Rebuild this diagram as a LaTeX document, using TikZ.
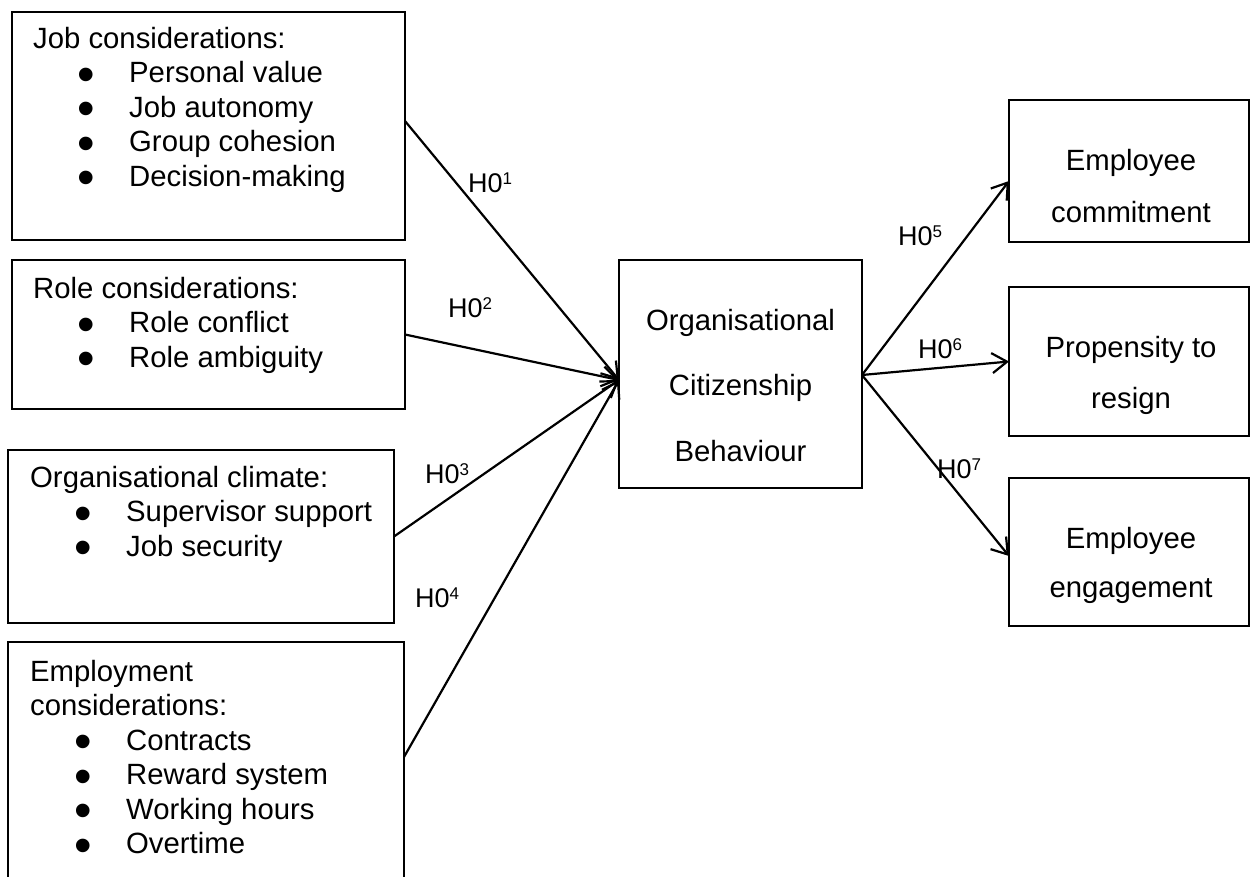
\documentclass[tikz,border=0pt]{standalone}
\usepackage{fontspec}
\setmainfont{Liberation Sans}
\usetikzlibrary{arrows.meta,calc}

% one bulleted entry of a factor list
\newcommand\listentry[1]{\hspace*{44pt}\makebox[52pt][l]{\smash{\raisebox{-8.5pt}{\fontsize{50pt}{50pt}\selectfont\textbullet}}}#1}
% hypothesis label H0 with raised index
\newcommand\hyp[1]{H0\raisebox{8pt}{\fontsize{17pt}{17pt}\selectfont #1}}

\begin{document}
\begin{tikzpicture}[x=1pt,y=-1pt,
  boxshape/.style={draw, rectangle, line width=1.7pt, inner sep=0pt, outer sep=0pt},
  listtext/.style={inner sep=0pt, anchor=base west, font=\fontsize{29.3pt}{34.5pt}\selectfont},
  centertext/.style={inner sep=0pt, anchor=base},
  hyplabel/.style={inner sep=0pt, anchor=base west, font=\fontsize{27pt}{27pt}\selectfont},
  conn/.style={line width=2.2pt, -{Straight Barb[length=15pt,width=20pt]}}
]
\fill[white] (0,0) rectangle (1250,876);
\useasboundingbox (0,0) rectangle (1250,876);

% factor boxes on the left
\node[boxshape, minimum width=393pt, minimum height=228pt] (jobbox) at (208.5,126) {};
\node[boxshape, minimum width=393pt, minimum height=149pt] (rolebox) at (208.5,334.5) {};
\node[boxshape, minimum width=386pt, minimum height=173pt] (climbox) at (201,536.5) {};
\node[boxshape, minimum width=396pt, minimum height=240pt] (empbox) at (206,762) {};

\node[listtext] (jobtext) at (33,48) {\begin{tabular}[t]{@{}l@{}}Job considerations:\\
  \listentry{Personal value}\\ \listentry{Job autonomy}\\
  \listentry{Group cohesion}\\ \listentry{Decision-making}\end{tabular}};
\node[listtext] (roletext) at (33,298) {\begin{tabular}[t]{@{}l@{}}Role considerations:\\
  \listentry{Role conflict}\\ \listentry{Role ambiguity}\end{tabular}};
\node[listtext] (climtext) at (30,487) {\begin{tabular}[t]{@{}l@{}}Organisational climate:\\
  \listentry{Supervisor support}\\ \listentry{Job security}\end{tabular}};
\node[listtext] (emptext) at (30,681) {\begin{tabular}[t]{@{}l@{}}Employment\\ considerations:\\
  \listentry{Contracts}\\ \listentry{Reward system}\\
  \listentry{Working hours}\\ \listentry{Overtime}\end{tabular}};

% central construct
\node[boxshape, minimum width=243pt, minimum height=228pt] (ocb) at (740.5,374) {};
\node[centertext, font=\fontsize{29.3pt}{65.5pt}\selectfont] (ocbtext) at (740.5,330)
  {\begin{tabular}[t]{@{}c@{}}Organisational\\ Citizenship\\ Behaviour\end{tabular}};

% outcome boxes on the right
\node[boxshape, minimum width=240pt, minimum height=142pt] (commitbox) at (1129,171) {};
\node[boxshape, minimum width=240pt, minimum height=149pt] (propbox) at (1129,361.5) {};
\node[boxshape, minimum width=240pt, minimum height=148pt] (engagebox) at (1129,552) {};

\node[centertext, font=\fontsize{29.3pt}{52pt}\selectfont] (committext) at (1131,170)
  {\begin{tabular}[t]{@{}c@{}}Employee\\ commitment\end{tabular}};
\node[centertext, font=\fontsize{29.3pt}{51pt}\selectfont] (proptext) at (1131,357)
  {\begin{tabular}[t]{@{}c@{}}Propensity to\\ resign\end{tabular}};
\node[centertext, font=\fontsize{29.3pt}{49pt}\selectfont] (engagetext) at (1131,548)
  {\begin{tabular}[t]{@{}c@{}}Employee\\ engagement\end{tabular}};

% hypothesised paths
\coordinate (inpt) at ($(ocb.west)+(0,6)$);
\coordinate (outpt) at ($(ocb.east)+(0,1)$);
\coordinate (empout) at ($(empbox.north east)+(0,115)$);
\draw[conn] ($(jobbox.east)+(0,-5)$) -- (inpt);
\draw[conn] (rolebox.east) -- (inpt);
\draw[conn] (climbox.east) -- (inpt);
\draw[conn] (empout) -- (inpt);
\draw[conn] (outpt) -- ($(commitbox.west)+(0,10)$);
\draw[conn] (outpt) -- (propbox.west);
\draw[conn] (outpt) -- ($(engagebox.west)+(0,4)$);

% path labels
\node[hyplabel] (h1) at (468,192) {\hyp{1}};
\node[hyplabel] (h2) at (448,317) {\hyp{2}};
\node[hyplabel] (h3) at (425,483) {\hyp{3}};
\node[hyplabel] (h4) at (415,607) {\hyp{4}};
\node[hyplabel] (h5) at (898,245) {\hyp{5}};
\node[hyplabel] (h6) at (918,358) {\hyp{6}};
\node[hyplabel] (h7) at (937,478) {\hyp{7}};
\end{tikzpicture}
\end{document}
